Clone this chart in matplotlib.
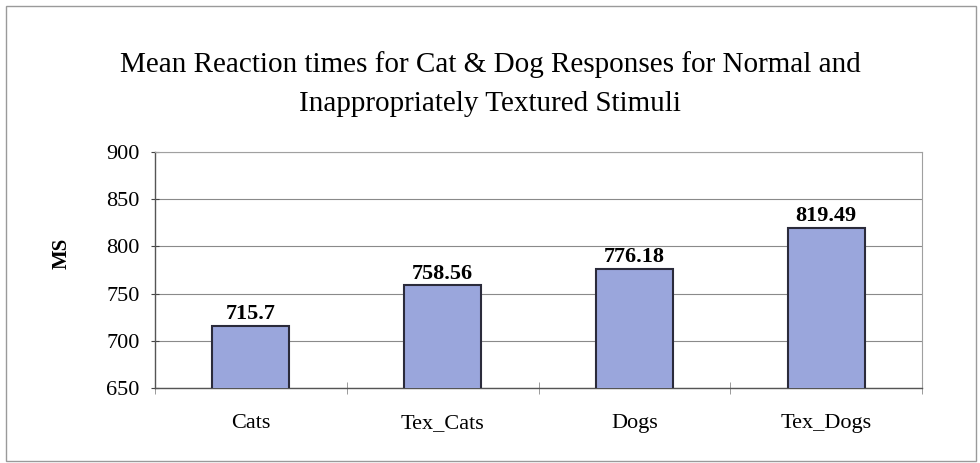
import matplotlib
matplotlib.use('Agg')
import matplotlib.pyplot as plt
from matplotlib.patches import Rectangle

plt.rcParams['font.family'] = ['Liberation Serif', 'DejaVu Serif']

# data
categories = ['Cats', 'Tex_Cats', 'Dogs', 'Tex_Dogs']
values = [715.7, 758.56, 776.18, 819.49]
labels = ['715.7', '758.56', '776.18', '819.49']
yticks = [650, 700, 750, 800, 850, 900]

fig = plt.figure(figsize=(9.8, 4.63), dpi=100)
fig.patches.append(Rectangle((0.006, 0.004), 0.99, 0.984, transform=fig.transFigure,
                             fill=False, edgecolor='#9a9a9a', linewidth=1.0))

ax = fig.add_axes([0.158, 0.162, 0.783, 0.510])
x = range(len(categories))
ax.bar(x, values, width=0.4, bottom=0, color='#9aa6dc', edgecolor='#2b2b3b',
       linewidth=1.5, zorder=3)
ax.set_ylim(650, 900)
ax.set_xlim(-0.5, len(categories) - 0.5)
ax.set_yticks(yticks)
ax.yaxis.grid(True, color='#8a8a8a', linewidth=0.8, zorder=0)
ax.set_xticks(x)
ax.set_xticklabels(categories, fontsize=16)
ax.tick_params(axis='x', length=0, pad=19)
# separator ticks between (and at the ends of) the categories
ax.set_xticks([i - 0.5 for i in range(len(categories) + 1)], minor=True)
ax.tick_params(axis='x', which='minor', length=8, direction='inout', color='#8a8a8a')
ax.tick_params(axis='y', labelsize=16, length=6, direction='inout', color='#444444', pad=8)

for s in ['top', 'right']:
    ax.spines[s].set_color('#a0a0a0')
    ax.spines[s].set_linewidth(0.8)
for s in ['left', 'bottom']:
    ax.spines[s].set_color('#555555')
    ax.spines[s].set_linewidth(1.0)

for i, v in enumerate(values):
    ax.text(i, v + 2, labels[i], ha='center', va='bottom', fontsize=16, fontweight='bold')

ax.set_ylabel('MS', fontsize=15, fontweight='bold')
ax.yaxis.set_label_coords(-0.108, 0.572)
fig.text(0.5, 0.818, 'Mean Reaction times for Cat & Dog Responses for Normal and\nInappropriately Textured Stimuli',
         ha='center', va='center', fontsize=21, linespacing=1.65)

fig.savefig('out.png', dpi=100)
